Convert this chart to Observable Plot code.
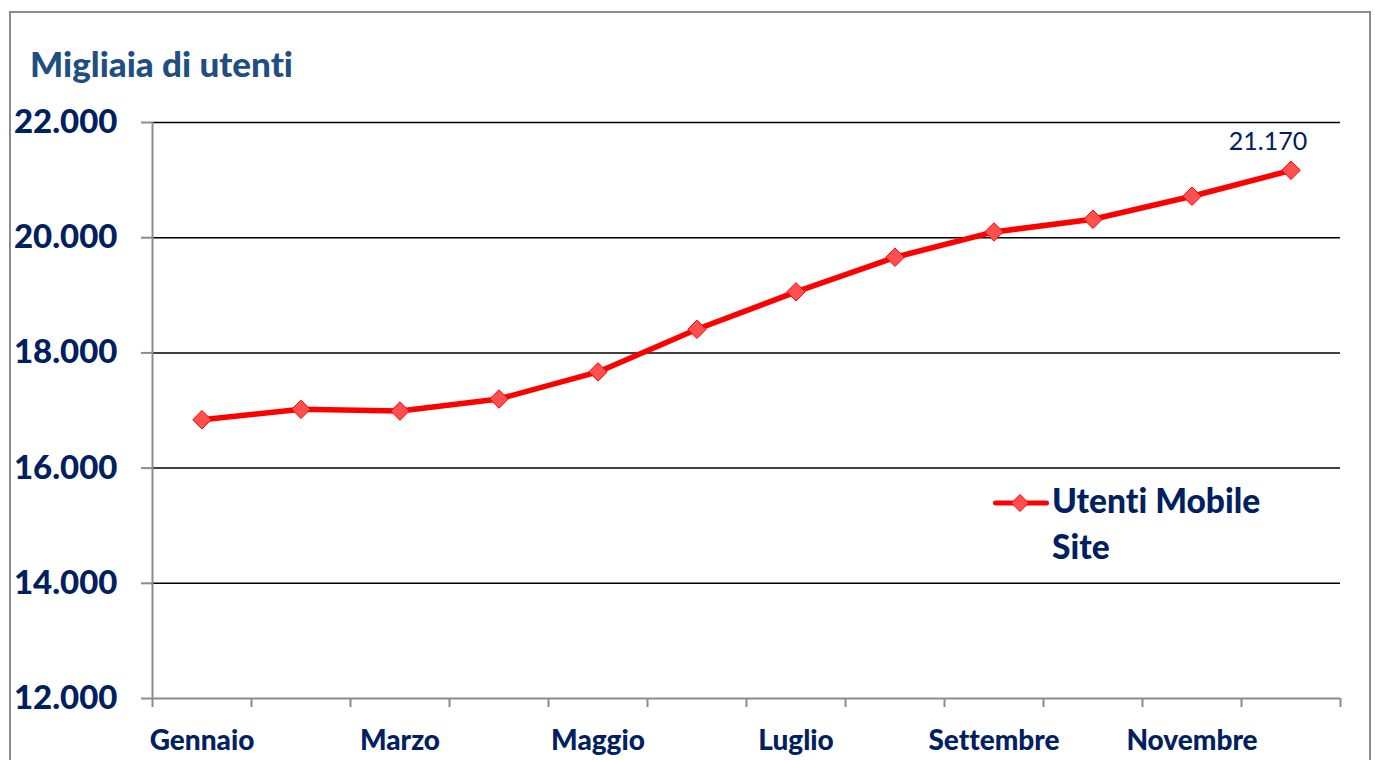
<!DOCTYPE html>
<html lang="it">
<head>
<meta charset="utf-8">
<script src="https://cdn.jsdelivr.net/npm/d3@7"></script>
<script src="https://cdn.jsdelivr.net/npm/@observablehq/plot@0.6"></script>
<style>
  html, body { margin: 0; padding: 0; background: #fff; }
  body { font-family: Lato, "Open Sans", sans-serif; }
  #wrap { position: relative; width: 1375px; height: 760px; overflow: hidden; }
  #border {
    position: absolute; left: 9px; top: 11px; width: 1358px; height: 800px;
    border: 2px solid #8c8c8c; border-bottom: none; pointer-events: none;
  }
  #title {
    position: absolute; left: 30px; top: 46px; margin: 0;
    font: 900 35px/1 Lato, sans-serif; font-variant-ligatures: none;
    color: #1f4e80; white-space: nowrap;
  }
  #legend {
    position: absolute; left: 993px; top: 477px; display: flex; align-items: flex-start;
  }
  #legend svg { margin-top: 12px; }
  #legend .lbl {
    font: 900 33.5px/46px Lato, sans-serif; font-variant-ligatures: none;
    color: #002060; margin-left: 3px;
  }
  #chart { position: absolute; left: 0; top: 0; }
  #chart svg text { font-variant-ligatures: none; }
</style>
</head>
<body>
<div id="wrap">
  <div id="border"></div>
  <div id="chart"></div>
  <div id="title">Migliaia di utenti</div>
  <div id="legend">
    <svg width="56" height="28" viewBox="0 0 56 28">
      <line x1="2.5" y1="14" x2="53.5" y2="14" stroke="#ff0000" stroke-width="5" stroke-linecap="round"/>
      <path d="M27,5.5 L35.5,14 L27,22.5 L18.5,14 Z" fill="#ff5050" stroke="#ff0000" stroke-width="1"/>
    </svg>
    <div class="lbl">Utenti Mobile<br>Site</div>
  </div>
</div>
<script>
// Monthly mobile-site users (thousands)
const months = ["Gennaio", "Febbraio", "Marzo", "Aprile", "Maggio", "Giugno",
                "Luglio", "Agosto", "Settembre", "Ottobre", "Novembre", "Dicembre"];
const users = [16840, 17020, 16990, 17200, 17670, 18410,
               19060, 19660, 20100, 20320, 20720, 21170];
const yTicks = [12000, 14000, 16000, 18000, 20000, 22000];
const labelledMonths = ["Gennaio", "Marzo", "Maggio", "Luglio", "Settembre", "Novembre"];

const navy = "#002060";
const axisGray = "#8c8c8c";

// Italian number formatting: 22.000
const it = d3.formatLocale({decimal: ",", thousands: ".", grouping: [3], currency: ["€", ""]});
const fmt = it.format(",d");

// Each month occupies one unit on a linear x scale; points sit at the unit centre
const data = months.map((m, i) => ({month: m, pos: i + 0.5, value: users[i]}));
const boundaries = d3.range(0, months.length + 1);
const labelPos = labelledMonths.map(m => months.indexOf(m) + 0.5);

const chart = Plot.plot({
  width: 1375,
  height: 760,
  marginLeft: 152,
  marginRight: 35,
  marginTop: 122,
  marginBottom: 62,
  style: {fontFamily: "Lato, sans-serif", background: "transparent", overflow: "visible"},
  x: {type: "linear", domain: [0, months.length]},
  y: {domain: [12000, 22000]},
  marks: [
    Plot.gridY({ticks: yTicks.slice(1), stroke: "#000", strokeOpacity: 1, strokeWidth: 1.5}),
    Plot.ruleY([12000], {stroke: axisGray, strokeWidth: 2}),
    Plot.ruleX([0], {y1: 12000, y2: 22000, stroke: axisGray, strokeWidth: 2}),
    Plot.axisY({
      ticks: yTicks, tickSize: 11, tickPadding: 24, tickFormat: fmt, label: null,
      stroke: axisGray, strokeWidth: 2, fill: navy, fontSize: 33, fontWeight: 900
    }),
    Plot.axisX({
      ticks: boundaries, tickSize: 9, tickFormat: () => "", label: null,
      stroke: axisGray, strokeWidth: 2
    }),
    Plot.axisX({
      ticks: labelPos, tickSize: 0, tickPadding: 32, label: null,
      tickFormat: p => months[Math.floor(p)],
      fill: navy, fontSize: 28, fontWeight: 900
    }),
    Plot.line(data, {x: "pos", y: "value", stroke: "#ff0000", strokeWidth: 5.5}),
    Plot.dot(data, {x: "pos", y: "value", symbol: "diamond2", r: 8.3,
                    fill: "#ff5050", stroke: "#ff0000", strokeWidth: 1}),
    Plot.text(data, Plot.selectLast({
      x: "pos", y: "value", text: d => fmt(d.value),
      dx: -23, dy: -28, fill: navy, fontSize: 25
    }))
  ]
});
document.getElementById("chart").appendChild(chart);
</script>
</body>
</html>
